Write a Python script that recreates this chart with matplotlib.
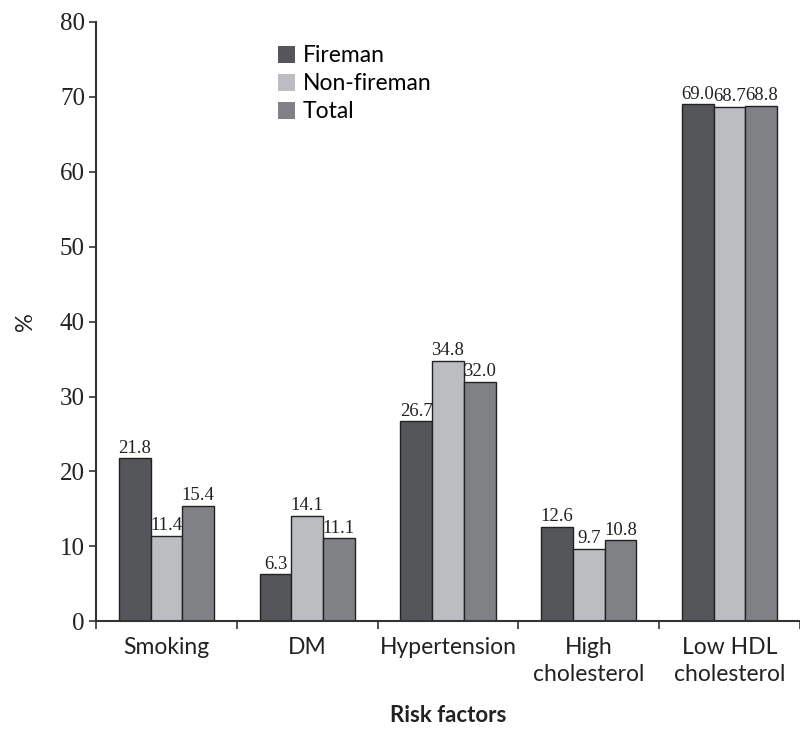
import matplotlib
matplotlib.use("Agg")
import matplotlib.pyplot as plt
import numpy as np

# data
categories = ["Smoking", "DM", "Hypertension", "High\ncholesterol", "Low HDL\ncholesterol"]
fireman = [21.8, 6.3, 26.7, 12.6, 69.0]
non_fireman = [11.4, 14.1, 34.8, 9.7, 68.7]
total = [15.4, 11.1, 32.0, 10.8, 68.8]
series_names = ["Fireman", "Non-fireman", "Total"]
colors = ["#55565a", "#bcbdc1", "#808185"]

num_font = "Liberation Serif"
txt_font = "Lato"

fig = plt.figure(figsize=(8, 7.31), dpi=100)
ax = fig.add_axes([0.12, 0.15, 0.88, 0.82])

x = np.arange(len(categories))
w = 0.225
for i, (vals, name) in enumerate(zip([fireman, non_fireman, total], series_names)):
    pos = x + (i - 1) * w
    ax.bar(pos, vals, w, color=colors[i], edgecolor="#222222", linewidth=1.0, label=name)
    for p, v in zip(pos, vals):
        ax.text(p, v + 0.2, f"{v:.1f}", ha="center", va="bottom",
                fontsize=13.5, family=num_font, color="#222222")

ax.set_xlim(-0.5, 4.5)
ax.set_ylim(0, 80)
ax.set_yticks(range(0, 81, 10))
ax.set_yticklabels([str(v) for v in range(0, 81, 10)], family=num_font, fontsize=18, color="#222222")
ax.tick_params(axis="y", direction="out", length=5, width=1.2, color="#333333", pad=3)

# boundary ticks on x axis, labels centred
ax.set_xticks(np.arange(-0.5, 4.6, 1.0))
ax.set_xticklabels([])
ax.set_xticks(x, minor=True)
ax.set_xticklabels(categories, minor=True, family=txt_font, fontsize=16.5, color="#222222",
                   linespacing=1.4)
ax.tick_params(axis="x", which="major", direction="out", length=6, width=1.2, color="#333333")
ax.tick_params(axis="x", which="minor", length=0, pad=11)

for s in ["top", "right"]:
    ax.spines[s].set_visible(False)
for s in ["left", "bottom"]:
    ax.spines[s].set_color("#333333")
    ax.spines[s].set_linewidth(1.5)

ax.set_ylabel("%", family=txt_font, fontsize=17, labelpad=17, color="#222222")
ax.set_xlabel("Risk factors", family=txt_font, fontweight="bold", fontsize=16, labelpad=14, color="#222222")

leg = ax.legend(loc="upper left", bbox_to_anchor=(0.245, 0.976), frameon=False,
                prop={"family": txt_font, "size": 16.5}, handlelength=0.75, handleheight=0.75,
                handletextpad=0.35, labelspacing=0.3, borderaxespad=0.0)
for h in leg.legend_handles:
    h.set_edgecolor("none")

fig.savefig("out.png", dpi=100)
